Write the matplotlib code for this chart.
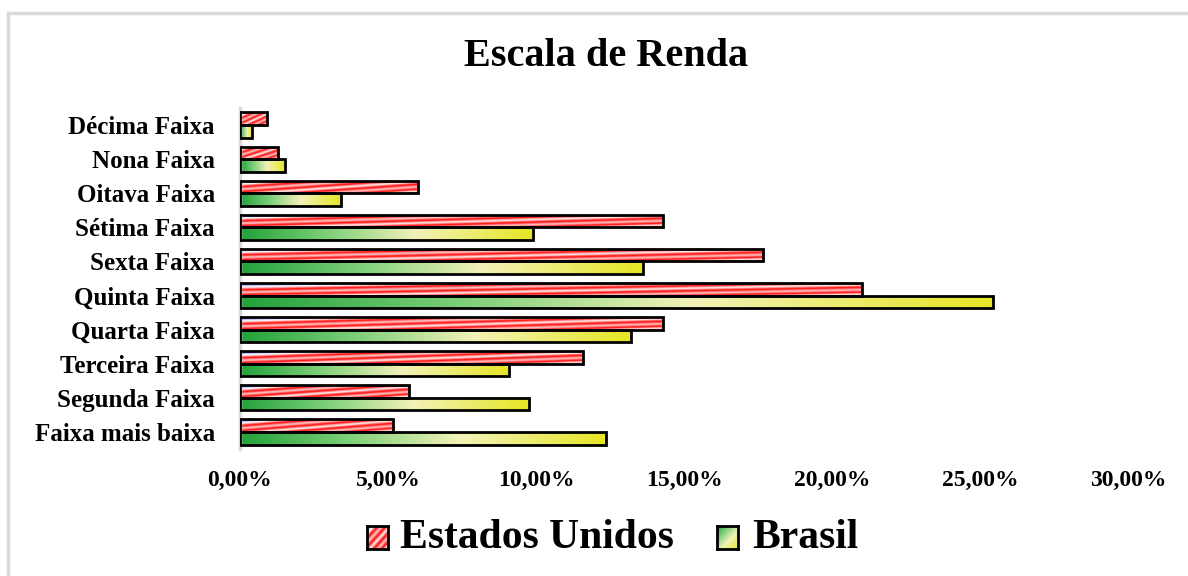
import matplotlib
matplotlib.use("Agg")
import matplotlib.pyplot as plt
from matplotlib.colors import LinearSegmentedColormap
from matplotlib.ticker import FuncFormatter
from matplotlib.patches import Rectangle
import numpy as np

# data (percent), bottom -> top
categorias = ["Faixa mais baixa", "Segunda Faixa", "Terceira Faixa", "Quarta Faixa",
              "Quinta Faixa", "Sexta Faixa", "Sétima Faixa", "Oitava Faixa",
              "Nona Faixa", "Décima Faixa"]
estados_unidos = [5.17, 5.70, 11.60, 14.30, 21.00, 17.66, 14.29, 6.00, 1.28, 0.91]
brasil = [12.35, 9.75, 9.10, 13.20, 25.45, 13.60, 9.90, 3.40, 1.52, 0.40]
xticks = [0, 5, 10, 15, 20, 25, 30]

FONT = "Liberation Serif"

cmap_eua = LinearSegmentedColormap.from_list("eua", [
    (0.00, "#3f4cff"), (0.10, "#c9c9ff"), (0.16, "#ffffff"), (0.26, "#ff0000"),
    (0.36, "#ffd6d6"), (0.46, "#ff0000"), (0.56, "#ffffff"), (0.66, "#ff0000"),
    (0.76, "#ffd0d0"), (0.86, "#ff0000"), (0.94, "#ffffff"), (1.00, "#ff4040")])
cmap_br = LinearSegmentedColormap.from_list("br", [
    (0.00, "#22a23a"), (0.30, "#7fd07a"), (0.60, "#f2f2b8"), (1.00, "#e6e626")])


def tex_eua(n=200, m=24):
    u = np.linspace(0, 1, n)[None, :]
    w = np.linspace(0, 1, m)[:, None]
    return cmap_eua((u + w) / 2)


def tex_br(n=200, m=24, diag=0.0):
    u = np.linspace(0, 1, n)[None, :]
    w = np.linspace(0, 1, m)[:, None]
    return cmap_br(np.clip((u + diag * w) / (1 + diag), 0, 1))


fig = plt.figure(figsize=(11.88, 5.76), dpi=100)
ax = fig.add_axes([240 / 1188, 1 - 449 / 576, 888 / 1188, 341 / 576])

y = np.arange(len(categorias))
h = 0.37
bars_eua = ax.barh(y + h / 2, estados_unidos, height=h, facecolor="none",
                   edgecolor="black", linewidth=2, zorder=3)
bars_br = ax.barh(y - h / 2, brasil, height=h, facecolor="none",
                  edgecolor="black", linewidth=2, zorder=3)

for bars, tex in ((bars_eua, tex_eua()), (bars_br, tex_br())):
    for b in bars:
        x0, y0 = b.get_x(), b.get_y()
        im = ax.imshow(tex, extent=(x0, x0 + b.get_width(), y0, y0 + b.get_height()),
                       origin="upper", aspect="auto", zorder=2, interpolation="bilinear")
        im.set_clip_path(b)

ax.set_xlim(0, 30)
ax.set_ylim(-0.5, len(categorias) - 0.5)
ax.set_yticks(y)
ax.set_yticklabels(categorias, fontfamily=FONT, fontweight="bold", fontsize=18)
ax.set_xticks(xticks)
ax.xaxis.set_major_formatter(FuncFormatter(lambda v, p: f"{v:.2f}".replace(".", ",") + "%"))
for lab in ax.get_xticklabels():
    lab.set_fontfamily(FONT)
    lab.set_fontweight("bold")
    lab.set_fontsize(17)
ax.tick_params(axis="both", length=0)
ax.tick_params(axis="y", pad=18)
ax.tick_params(axis="x", pad=15)
for s in ("top", "right", "bottom"):
    ax.spines[s].set_visible(False)
ax.spines["left"].set_color("#d9d9d9")
ax.spines["left"].set_linewidth(2.5)

fig.text(606 / 1188, 1 - 57 / 576, "Escala de Renda", ha="center", va="center",
         fontfamily=FONT, fontweight="bold", fontsize=29)

# chart area border (only top and left fall inside the picture)
fig.add_artist(Rectangle((8 / 1188, -0.1), 1.2, 1 - 13 / 576 + 0.1, transform=fig.transFigure,
                         fill=False, edgecolor="#d9d9d9", linewidth=2.5))

# legend
for x_sw, x_txt, label, tex in ((367, 400, "Estados Unidos", tex_eua(40, 40)),
                                (717, 752, "Brasil", tex_br(40, 40, diag=1.0))):
    lax = fig.add_axes([x_sw / 1188, 1 - 549 / 576, 21 / 1188, 23 / 576])
    lax.imshow(tex, aspect="auto", interpolation="bilinear")
    lax.set_xticks([])
    lax.set_yticks([])
    for sp in lax.spines.values():
        sp.set_linewidth(2)
        sp.set_color("black")
    fig.text(x_txt / 1188, 1 - 538 / 576, label, ha="left", va="center",
             fontfamily=FONT, fontweight="bold", fontsize=30)

fig.savefig("out.png", dpi=100)
